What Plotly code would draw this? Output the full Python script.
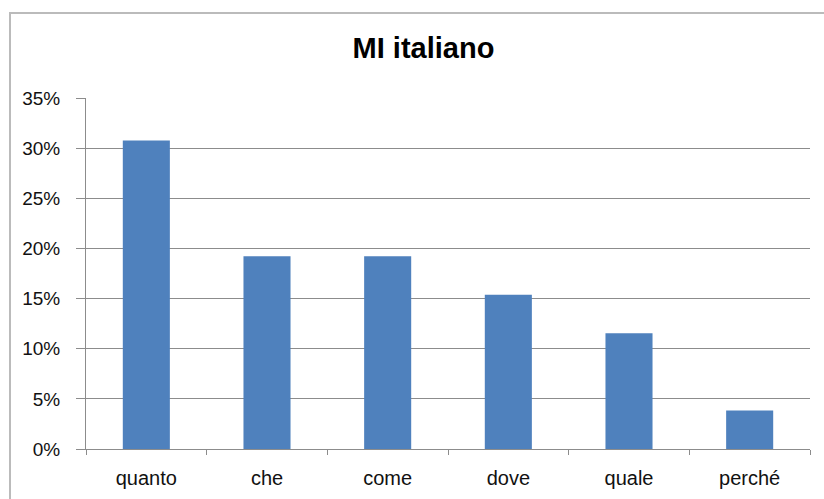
import plotly.graph_objects as go

# Question words and their share of answers
categories = ["quanto", "che", "come", "dove", "quale", "perché"]
shares = [0.3077, 0.1923, 0.1923, 0.1538, 0.1154, 0.0385]
y_ticks = [0, 0.05, 0.10, 0.15, 0.20, 0.25, 0.30, 0.35]
y_tick_labels = ["0%", "5%", "10%", "15%", "20%", "25%", "30%", "35%"]

W, H = 824, 499
ML, MR, MT, MB = 86, 14, 98, 50
PW, PH = W - ML - MR, H - MT - MB

fig = go.Figure(go.Bar(
    x=categories, y=shares,
    marker=dict(color="#4F81BD", line=dict(width=0)),
))

# outer chart frame, expressed in paper coordinates of the plot area
x0 = (10 - ML) / PW
x1 = (W + 5 - ML) / PW
y1 = 1 + (MT - 13) / PH
y0 = -(H + 5 - (MT + PH)) / PH
fig.add_shape(type="rect", xref="paper", yref="paper",
              x0=x0, x1=x1, y0=y0, y1=y1,
              line=dict(color="#BBBBBB", width=2), layer="below")

fig.update_layout(
    width=W, height=H,
    margin=dict(l=ML, r=MR, t=MT, b=MB),
    paper_bgcolor="white", plot_bgcolor="white",
    bargap=0.61,
    showlegend=False,
    title=dict(text="<b>MI italiano</b>", x=(423.5 - ML) / PW, xref="paper", xanchor="center",
               y=1 - 48 / H, yanchor="middle",
               font=dict(family="Liberation Sans, Arial", size=29, color="#000000")),
    font=dict(family="Liberation Sans, Arial", color="#111111"),
)
fig.update_yaxes(
    range=[0, 0.35], tickvals=y_ticks, ticktext=y_tick_labels,
    showgrid=True, gridcolor="#8C8C8C", gridwidth=1,
    showline=True, linecolor="#8C8C8C", linewidth=1,
    ticks="outside", ticklen=9, tickcolor="#8C8C8C",
    ticklabelstandoff=12, automargin=False,
    tickfont=dict(size=19, family="Liberation Sans, Arial"),
    zeroline=False,
)
fig.update_xaxes(
    showline=True, linecolor="#8C8C8C", linewidth=1,
    ticks="outside", ticklen=5, tickcolor="#8C8C8C", tickson="boundaries",
    ticklabelstandoff=11, automargin=False,
    tickfont=dict(size=20, family="Liberation Sans, Arial"),
)

fig.write_html("out.html")
